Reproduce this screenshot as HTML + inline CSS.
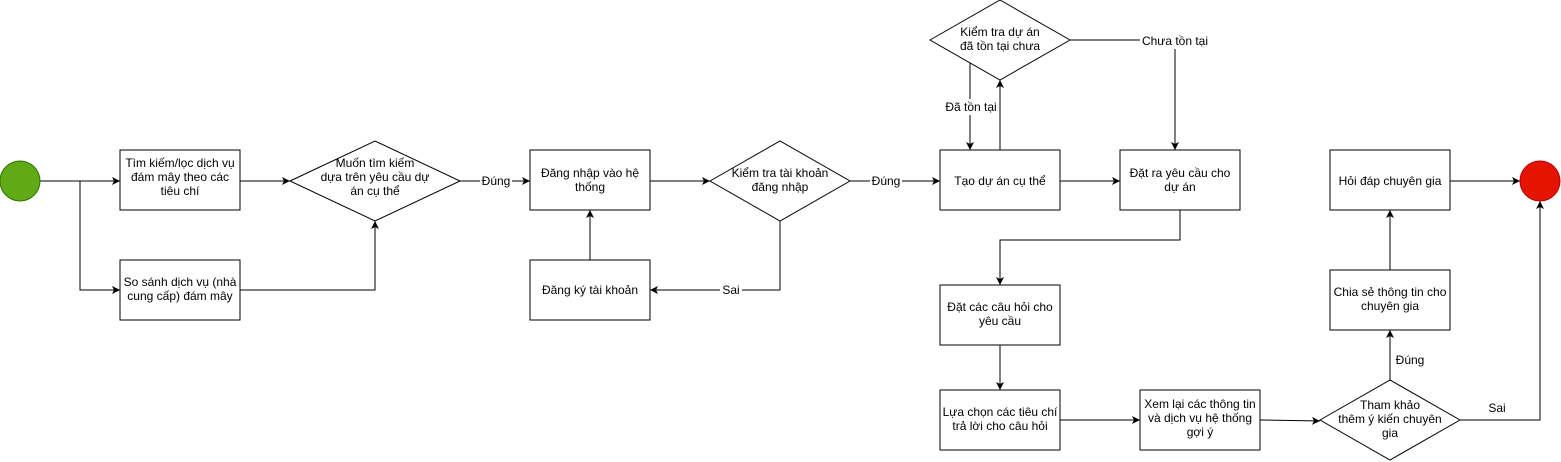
<!DOCTYPE html>
<html><head><meta charset="utf-8"><style>
html,body{margin:0;padding:0;background:#fff;}
svg{display:block;}
text{font-family:"Liberation Sans",Arial,sans-serif;font-size:12px;fill:#000;}
</style></head><body>
<svg width="1561" height="462" viewBox="0 0 1561 462" xmlns="http://www.w3.org/2000/svg">
<defs><marker id="a" markerWidth="10" markerHeight="10" refX="9" refY="5" orient="auto" markerUnits="userSpaceOnUse"><path d="M1,1 L9,5 L1,9 L3,5 Z" fill="#000"/></marker></defs>
<g fill="none" stroke="#000" stroke-width="1">
<polyline points="40,181 120,181" marker-end="url(#a)"/>
<polyline points="80,181 80,290 120,290" marker-end="url(#a)"/>
<polyline points="240,181 290,181" marker-end="url(#a)"/>
<polyline points="240,290 375,290 375,221" marker-end="url(#a)"/>
<polyline points="460,181 530,181" marker-end="url(#a)"/>
<polyline points="590,260 590,210" marker-end="url(#a)"/>
<polyline points="650,181 710,181" marker-end="url(#a)"/>
<polyline points="780,221 780,290 650,290" marker-end="url(#a)"/>
<polyline points="850,181 940,181" marker-end="url(#a)"/>
<polyline points="1000,150 1000,80" marker-end="url(#a)"/>
<polyline points="970,63 970,150" marker-end="url(#a)"/>
<polyline points="1070,40 1175,40 1175,150" marker-end="url(#a)"/>
<polyline points="1060,181 1120,181" marker-end="url(#a)"/>
<polyline points="1180,210 1180,240 1000,240 1000,285" marker-end="url(#a)"/>
<polyline points="1000,345 1000,390" marker-end="url(#a)"/>
<polyline points="1060,420 1140,420" marker-end="url(#a)"/>
<polyline points="1260,420 1320,421" marker-end="url(#a)"/>
<polyline points="1390,380 1390,330" marker-end="url(#a)"/>
<polyline points="1390,270 1390,210" marker-end="url(#a)"/>
<polyline points="1450,181 1520,181" marker-end="url(#a)"/>
<polyline points="1460,420 1540,420 1540,201" marker-end="url(#a)"/>
</g>
<g fill="#fff" stroke="#000">
<rect x="120" y="150" width="120" height="60"/>
<rect x="120" y="260" width="120" height="60"/>
<rect x="530" y="150" width="120" height="60"/>
<rect x="530" y="260" width="120" height="60"/>
<rect x="940" y="150" width="120" height="60"/>
<rect x="1120" y="150" width="120" height="60"/>
<rect x="940" y="285" width="120" height="60"/>
<rect x="940" y="390" width="120" height="60"/>
<rect x="1140" y="390" width="120" height="60"/>
<rect x="1330" y="270" width="120" height="60"/>
<rect x="1330" y="150" width="120" height="60"/>
<polygon points="290,181 375,141 460,181 375,221"/>
<polygon points="710,181 780,141 850,181 780,221"/>
<polygon points="930,40 1000,0 1070,40 1000,80"/>
<polygon points="1320,420 1390,380 1460,420 1390,460"/>
</g>
<circle cx="20" cy="181" r="20" fill="#60a917" stroke="#2d7600"/>
<circle cx="1540" cy="181" r="20" fill="#e51400" stroke="#b20000"/>
<g fill="#fff">
<rect x="480" y="173" width="32" height="16"/>
<rect x="870" y="173" width="32" height="16"/>
<rect x="720" y="282" width="22" height="16"/>
<rect x="943" y="99" width="56" height="16"/>
<rect x="1140" y="33" width="70" height="16"/>
<rect x="1395" y="352" width="30" height="16"/>
</g>
<g text-anchor="middle">
<text x="180" y="167">Tìm kiếm/lọc dịch vụ</text><text x="180" y="181">đám mây theo các</text><text x="180" y="195">tiêu chí</text>
<text x="180" y="286">So sánh dịch vụ (nhà</text><text x="180" y="300">cung cấp) đám mây</text>
<text x="375" y="167">Muốn tìm kiếm</text><text x="375" y="181">dựa trên yêu cầu dự</text><text x="375" y="195">án cụ thể</text>
<text x="496" y="185">Đúng</text>
<text x="590" y="177">Đăng nhập vào hệ</text><text x="590" y="191">thống</text>
<text x="590" y="294">Đăng ký tài khoản</text>
<text x="780" y="177">Kiểm tra tài khoản</text><text x="780" y="191">đăng nhập</text>
<text x="731" y="294">Sai</text>
<text x="886" y="185">Đúng</text>
<text x="1000" y="185">Tạo dự án cụ thể</text>
<text x="1000" y="36">Kiểm tra dự án</text><text x="1000" y="50">đã tồn tại chưa</text>
<text x="971" y="111">Đã tồn tại</text>
<text x="1175" y="45">Chưa tồn tại</text>
<text x="1180" y="177">Đặt ra yêu cầu cho</text><text x="1180" y="191">dự án</text>
<text x="1000" y="311">Đặt các câu hỏi cho</text><text x="1000" y="325">yêu cầu</text>
<text x="1000" y="416">Lựa chọn các tiêu chí</text><text x="1000" y="430">trả lời cho câu hỏi</text>
<text x="1200" y="408">Xem lại các thông tin</text><text x="1200" y="422">và dịch vụ hệ thống</text><text x="1200" y="436">gợi ý</text>
<text x="1390" y="409">Tham khảo</text><text x="1390" y="423">thêm ý kiến chuyên</text><text x="1390" y="437">gia</text>
<text x="1497" y="412">Sai</text>
<text x="1410" y="364">Đúng</text>
<text x="1390" y="296">Chia sẻ thông tin cho</text><text x="1390" y="310">chuyên gia</text>
<text x="1390" y="185">Hỏi đáp chuyên gia</text>
</g>
</svg>
</body></html>
